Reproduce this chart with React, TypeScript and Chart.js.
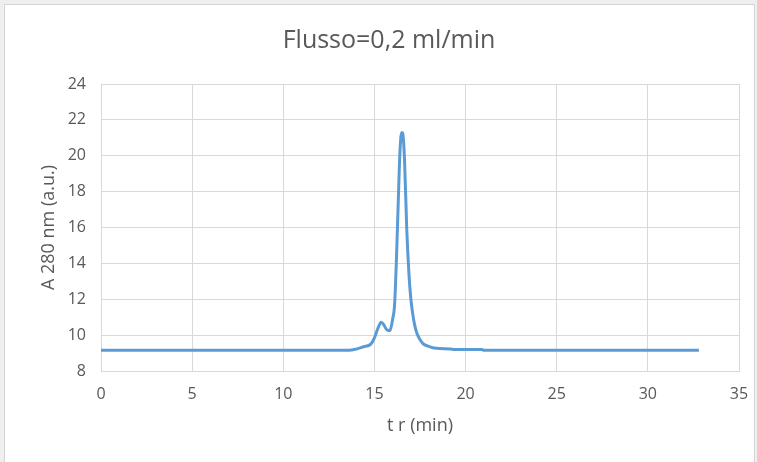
import React, { useEffect, useRef } from "react";
import { Chart, registerables } from "chart.js";

Chart.register(...registerables);

const timeMin = [0, 13.6, 14.0, 14.4, 14.8, 15.0, 15.2, 15.37, 15.5, 15.65, 15.85, 16.0, 16.1, 16.2, 16.3, 16.4, 16.5, 16.55, 16.65, 16.77, 16.9, 17.0, 17.1, 17.2, 17.33, 17.5, 17.66, 17.9, 18.2, 18.6, 19.2, 19.3, 20.9, 21.0, 32.8];
const absorbance = [9.15, 9.15, 9.22, 9.35, 9.5, 9.85, 10.4, 10.72, 10.6, 10.33, 10.25, 10.9, 11.6, 14.0, 17.2, 20.2, 21.3, 21.25, 19.8, 16.0, 13.3, 12.0, 11.2, 10.6, 10.1, 9.75, 9.53, 9.4, 9.3, 9.25, 9.23, 9.2, 9.2, 9.16, 9.15];

const titleText = "Flusso=0,2 ml/min";
const xTitle = "t r (min)";
const yTitle = "A 280 nm (a.u.)";

const FONT = "'Open Sans', sans-serif";
const TEXT = "#595959";
const GRID = "#d9d9d9";

export default function App() {
  const ref = useRef<HTMLCanvasElement | null>(null);

  useEffect(() => {
    document.body.style.margin = "0";
    const canvas = ref.current;
    if (!canvas) return;
    const chart = new Chart(canvas, {
      type: "scatter",
      data: {
        datasets: [
          {
            data: timeMin.map((t, i) => ({ x: t, y: absorbance[i] })),
            showLine: true,
            borderColor: "#5B9BD5",
            borderWidth: 3,
            pointRadius: 0,
            cubicInterpolationMode: "monotone",
            fill: false,
          },
        ],
      },
      options: {
        animation: false,
        responsive: false,
        layout: { padding: { left: 39, right: 18, top: 0, bottom: 0 } },
        plugins: {
          legend: { display: false },
          tooltip: { enabled: false },
          title: {
            display: true,
            text: titleText,
            color: TEXT,
            font: { family: FONT, size: 25, weight: "normal", lineHeight: 1.2 },
            padding: { top: 26, bottom: 28 },
          },
        },
        scales: {
          x: {
            type: "linear",
            min: 0,
            max: 35,
            afterFit: (s: any) => {
              s.height = 91;
              s.paddingRight = 9;
              s.paddingLeft = 9;
            },
            ticks: {
              stepSize: 5,
              color: TEXT,
              font: { family: FONT, size: 16 },
              padding: 14,
              maxRotation: 0,
            },
            grid: { color: GRID, drawTicks: false },
            border: { color: GRID },
            title: {
              display: true,
              text: xTitle,
              color: TEXT,
              font: { family: FONT, size: 18, lineHeight: 1.2 },
              padding: { top: 0, bottom: 25 },
            },
          },
          y: {
            min: 8,
            max: 24,
            afterFit: (s: any) => {
              s.width = 62;
            },
            ticks: {
              stepSize: 2,
              color: TEXT,
              font: { family: FONT, size: 16 },
              padding: 15,
            },
            grid: { color: GRID, drawTicks: false },
            border: { display: false },
            title: {
              display: true,
              text: yTitle,
              color: TEXT,
              font: { family: FONT, size: 18, lineHeight: 1.1 },
              padding: { top: 0, bottom: 0 },
            },
          },
        },
      },
    });
    return () => chart.destroy();
  }, []);

  return (
    <div style={{ position: "relative", width: 757, height: 462, background: "#efefef", overflow: "hidden" }}>
      <div
        style={{
          position: "absolute",
          left: 4,
          top: 4,
          width: 749,
          height: 470,
          background: "#ffffff",
          border: "1px solid #d4d4d4",
        }}
      />
      <canvas ref={ref} width={757} height={462} style={{ position: "absolute", left: 0, top: 0 }} />
    </div>
  );
}
